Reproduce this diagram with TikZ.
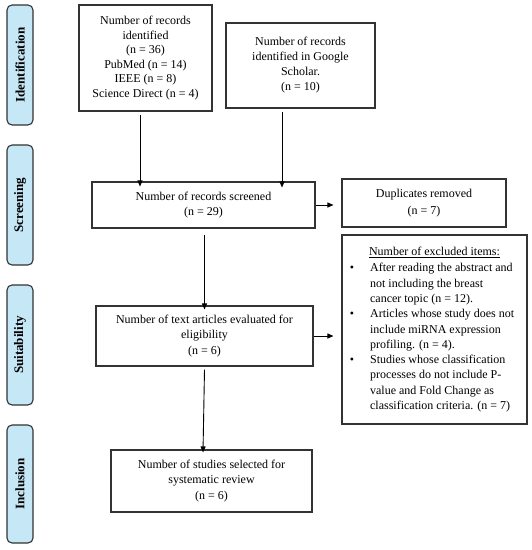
\documentclass[tikz,border=0pt]{standalone}
\usepackage{fontspec}
\setmainfont{Liberation Serif}
\usetikzlibrary{arrows.meta}
\definecolor{sideblue}{HTML}{C6E7F6}
\definecolor{edge}{HTML}{333333}
\begin{document}
\begin{tikzpicture}[x=1pt,y=-1pt,
  box/.style={draw=edge,line width=1.1pt,inner sep=2pt,align=center,
    font=\fontsize{12}{15.5}\selectfont},
  side/.style={draw=edge,fill=sideblue,line width=1.1pt,rounded corners=5pt,
    minimum width=26pt,inner sep=0pt},
  sidetext/.style={rotate=90,font=\fontsize{13}{15}\selectfont\bfseries},
  arr/.style={line width=0.9pt,-{Triangle[length=6pt,width=5pt]}}]
\useasboundingbox (0,0) rectangle (532,550);
% side labels
\node[side,minimum height=120pt] (sid) at (20,65) {};
\node[sidetext] (tid) at (sid.center) {Identification};
\node[side,minimum height=120pt] (ssc) at (20,205) {};
\node[sidetext] (tsc) at (ssc.center) {Screening};
\node[side,minimum height=120pt] (ssu) at (20,345) {};
\node[sidetext] (tsu) at (ssu.center) {Suitability};
\node[side,minimum height=118pt] (sin) at (20,484) {};
\node[sidetext] (tin) at (sin.center) {Inclusion};
% boxes
\node[box,minimum width=133pt,minimum height=106pt,font=\fontsize{12}{14.6}\selectfont] (b1) at (145.5,58)
  {Number of records\\identified\\(n = 36)\\PubMed (n = 14)\\IEEE (n = 8)\\Science Direct (n = 4)};
\node[box,minimum width=149pt,minimum height=85pt,font=\fontsize{12}{15}\selectfont] (b2) at (300.5,65.5)
  {Number of records\\identified in Google\\Scholar.\\(n = 10)};
\node[box,minimum width=223pt,minimum height=46pt] (scr) at (203.5,205)
  {Number of records screened\\(n = 29)};
\node[box,minimum width=164pt,minimum height=48pt,font=\fontsize{12}{17}\selectfont] (dup) at (424,203)
  {Duplicates removed\\(n = 7)};
\node[box,minimum width=217pt,minimum height=60pt] (txt) at (204.5,336)
  {Number of text articles evaluated for\\eligibility\\(n = 6)};
\node[box,minimum width=201pt,minimum height=62pt] (stu) at (211.5,481)
  {Number of studies selected for\\systematic review\\(n = 6)};
\node[box,minimum width=185pt,minimum height=189pt,font=\fontsize{12}{15.3}\selectfont] (exc) at (434.5,329.5)
  {\begin{tabular}{@{}l@{\hspace{16pt}}l@{\hspace{5pt}}}
   \multicolumn{2}{@{\hspace{5pt}}c@{\hspace{5pt}}}{\underline{Number of excluded items:}}\\[1pt]
   \textbullet & After reading the abstract and\\
   & not including the breast\\
   & cancer topic (n = 12).\\
   \textbullet & Articles whose study does not\\
   & include miRNA expression\\
   & profiling. (n = 4).\\
   \textbullet & Studies whose classification\\
   & processes do not include P-\\
   & value and Fold Change as\\
   & classification criteria. (n = 7)
   \end{tabular}};
% connectors
\draw[arr] ([xshift=-5.5pt,yshift=-3pt]b1.south) -- ([xshift=-5.5pt,yshift=-5pt]b1.south |- scr.north);
\draw[arr] ([xshift=-18.5pt,yshift=-3pt]b2.south) -- ([xshift=-18.5pt,yshift=-6pt]b2.south |- scr.north);
\draw[arr] (scr.east) -- ([xshift=-8pt]scr.east -| dup.west);
\draw[arr] ([yshift=-6pt]scr.south -| txt.north) -- ([yshift=-4pt]txt.north);
\draw[arr] (txt.east) -- ([xshift=-8pt]txt.east -| exc.west);
\draw[arr] ([yshift=-3pt]txt.south) -- ([xshift=-1.5pt,yshift=-3pt]txt.south |- stu.north);
\end{tikzpicture}
\end{document}
